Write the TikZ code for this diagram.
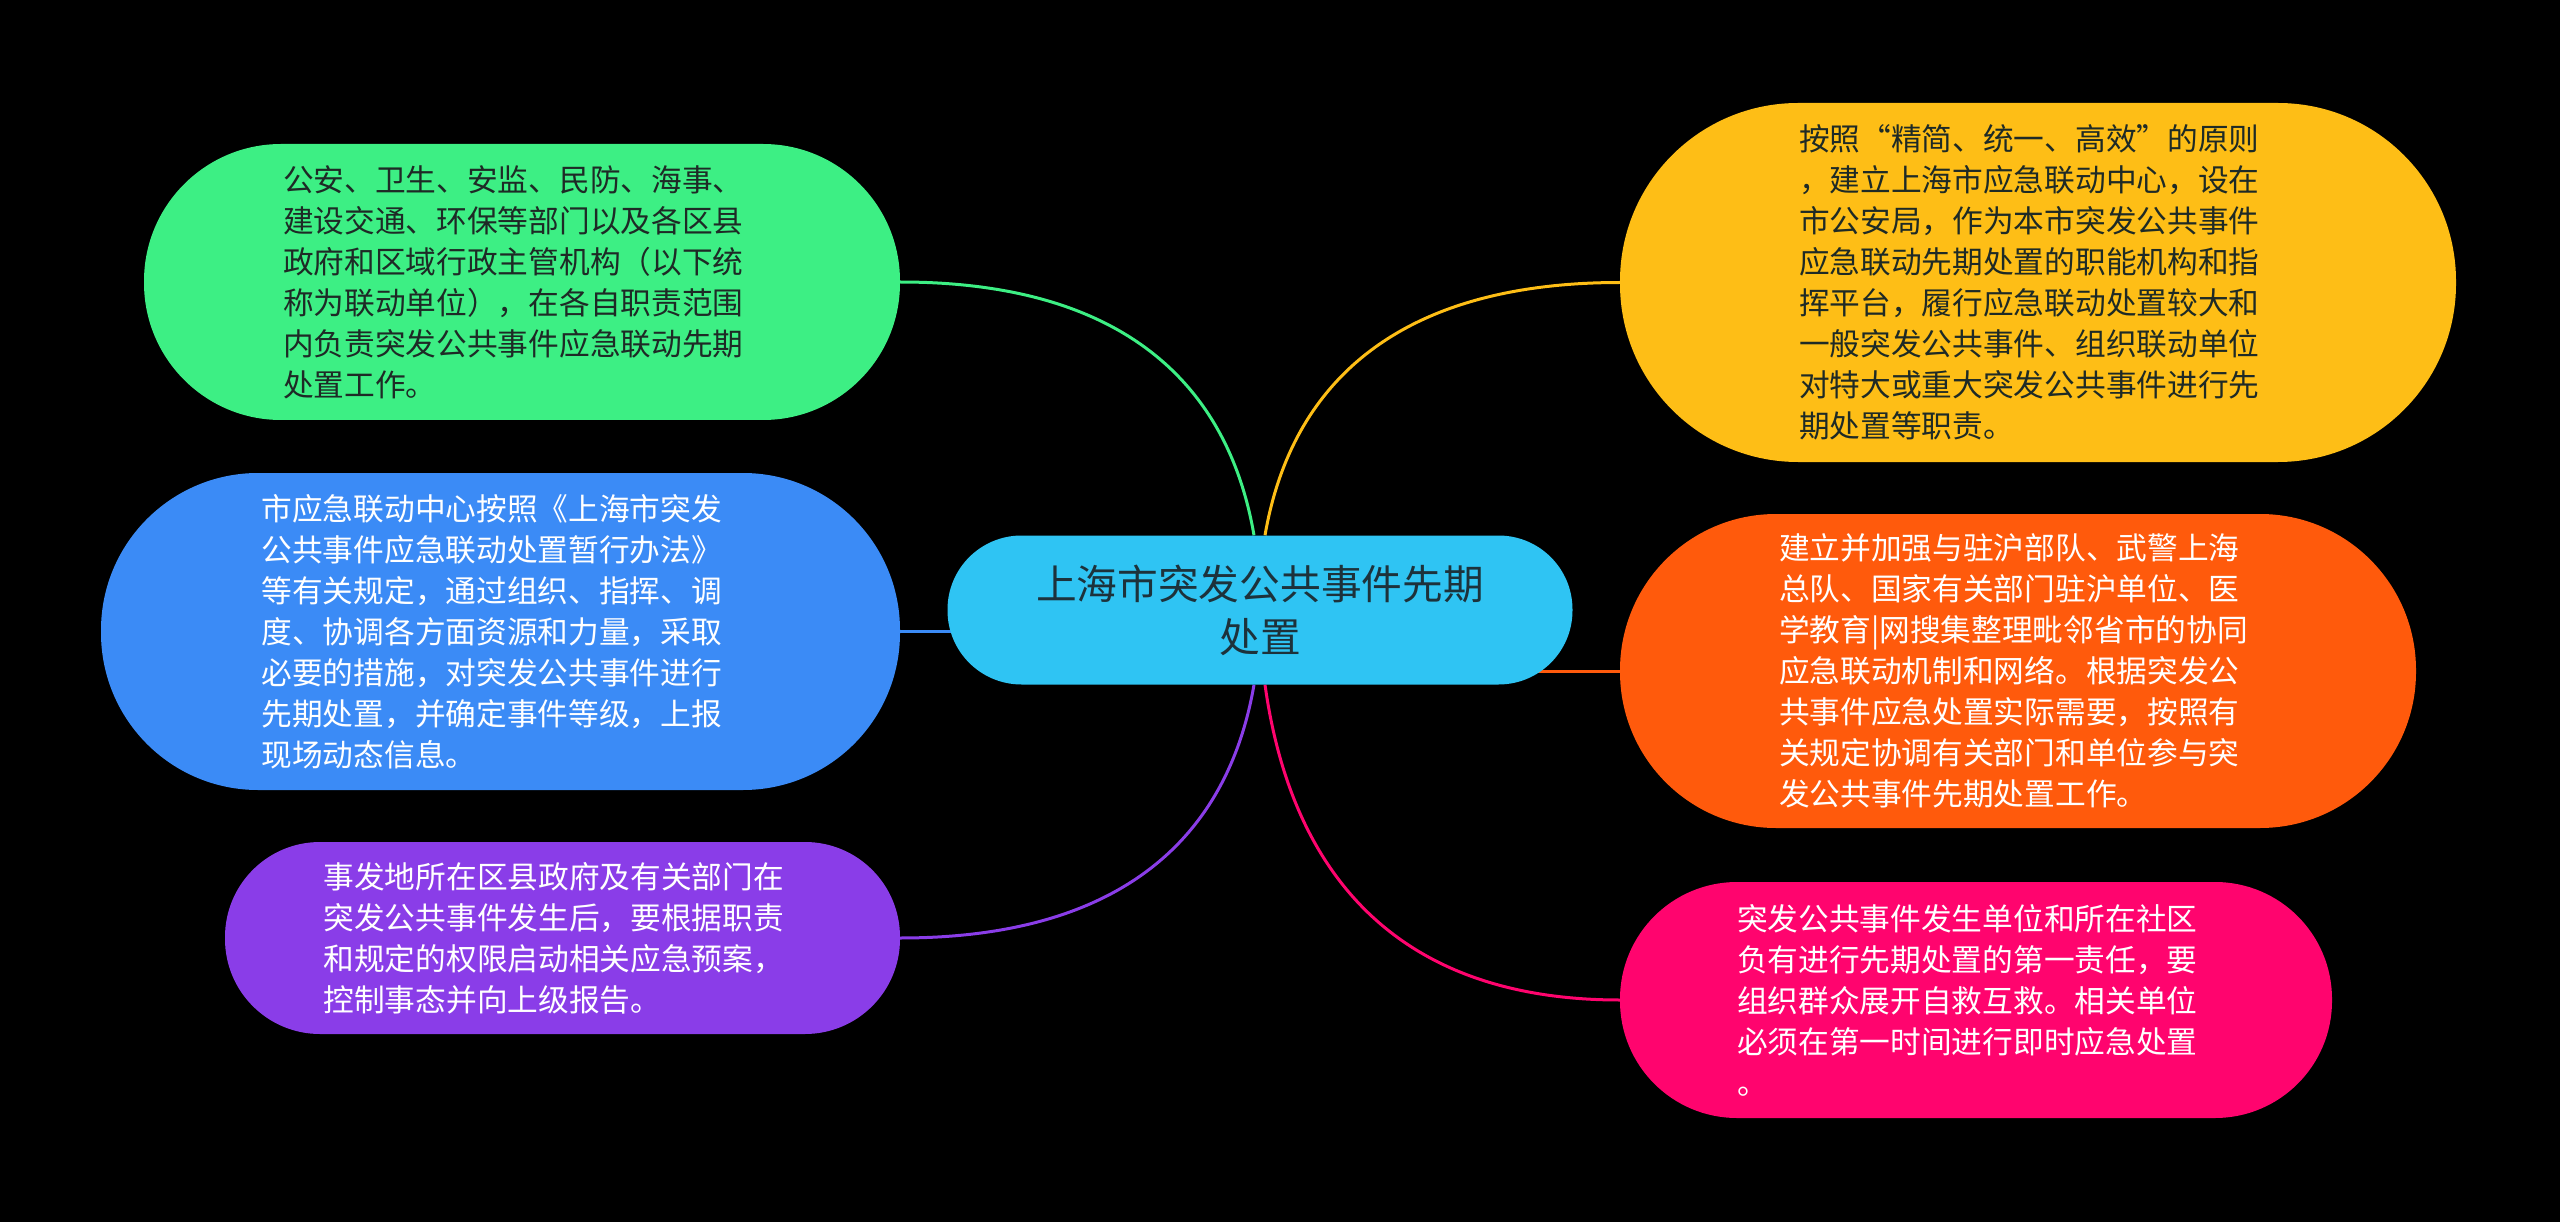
\documentclass[tikz,border=0pt]{standalone}
\usepackage{fontspec}
\setmainfont{Noto Sans CJK SC}
\usetikzlibrary{calc,backgrounds}
\definecolor{cgreen}{HTML}{3DEF84}
\definecolor{cblue}{HTML}{3B8BF6}
\definecolor{cpurple}{HTML}{8A3DE8}
\definecolor{cyellow}{HTML}{FEBE16}
\definecolor{corange}{HTML}{FF5A0C}
\definecolor{cpink}{HTML}{FF046E}
\definecolor{ccenter}{HTML}{2FC4F3}
\definecolor{darktext}{HTML}{1E2A26}
\definecolor{centertext}{HTML}{1D323B}
\begin{document}
\begin{tikzpicture}[x=1pt,y=-1pt,
  leaf/.style={inner sep=0pt, text width=478pt, align=left,
    font=\fontsize{30.7}{41}\selectfont},
  conn/.style={line width=3pt}]
\useasboundingbox (0,0) rectangle (2560,1222);
\begin{scope}[on background layer]
  \fill[black] (0,0) rectangle (2560,1222);
\end{scope}

\node[fill=ccenter, minimum width=625pt, minimum height=149pt, rounded corners=74pt,
  inner sep=0pt, align=center, text=centertext, font=\fontsize{40.7}{53}\selectfont]
  (c) at (1260,610) {上海市突发公共事件先期\\处置};

\node[leaf, fill=cgreen, text=darktext, minimum width=756pt, minimum height=276pt,
  rounded corners=137pt] (g) at (522,282)
  {公安、卫生、安监、民防、海事、\\建设交通、环保等部门以及各区县\\政府和区域行政主管机构（以下统\\称为联动单位），在各自职责范围\\内负责突发公共事件应急联动先期\\处置工作。};

\node[leaf, fill=cblue, text=white, minimum width=799pt, minimum height=317pt,
  rounded corners=157pt] (b) at (500.5,631.5)
  {市应急联动中心按照《上海市突发\\公共事件应急联动处置暂行办法》\\等有关规定，通过组织、指挥、调\\度、协调各方面资源和力量，采取\\必要的措施，对突发公共事件进行\\先期处置，并确定事件等级，上报\\现场动态信息。};

\node[leaf, fill=cpurple, text=white, minimum width=675pt, minimum height=192pt,
  rounded corners=95pt] (p) at (562.5,938)
  {事发地所在区县政府及有关部门在\\突发公共事件发生后，要根据职责\\和规定的权限启动相关应急预案，\\控制事态并向上级报告。};

\node[leaf, fill=cyellow, text=darktext, minimum width=836pt, minimum height=359pt,
  rounded corners=178pt] (y) at (2038,282.5)
  {按照“精简、统一、高效”的原则\\，建立上海市应急联动中心，设在\\市公安局，作为本市突发公共事件\\应急联动先期处置的职能机构和指\\挥平台，履行应急联动处置较大和\\一般突发公共事件、组织联动单位\\对特大或重大突发公共事件进行先\\期处置等职责。};

\node[leaf, fill=corange, text=white, minimum width=796pt, minimum height=314pt,
  rounded corners=156pt] (o) at (2018,671)
  {建立并加强与驻沪部队、武警上海\\总队、国家有关部门驻沪单位、医\\学教育|网搜集整理毗邻省市的协同\\应急联动机制和网络。根据突发公\\共事件应急处置实际需要，按照有\\关规定协调有关部门和单位参与突\\发公共事件先期处置工作。};

\node[leaf, fill=cpink, text=white, minimum width=712pt, minimum height=236pt,
  rounded corners=117pt] (k) at (1976,1000)
  {突发公共事件发生单位和所在社区\\负有进行先期处置的第一责任，要\\组织群众展开自救互救。相关单位\\必须在第一时间进行即时应急处置\\。};

\coordinate (gs) at ($(c.north)+(-6,0)$);
\coordinate (ys) at ($(c.north)+(5,0)$);
\coordinate (ps) at ($(c.south)+(-6,0)$);
\coordinate (ks) at ($(c.south)+(5,0)$);

\begin{scope}[on background layer]
  \draw[conn, cgreen] (gs) .. controls +(-25,-145) and +(230,0) .. (g.east);
  \draw[conn, cyellow] (ys) .. controls +(25,-145) and +(-230,0) .. (y.west);
  \draw[conn, cpurple] (ps) .. controls +(-25,145) and +(230,0) .. (p.east);
  \draw[conn, cpink] (ks) .. controls +(25,180) and +(-231,0) .. (k.west);
  \draw[conn, cblue] (b.east) -- (b.east -| c.center);
  \draw[conn, corange] (o.west) -- (o.west -| c.center);
\end{scope}
\end{tikzpicture}
\end{document}
